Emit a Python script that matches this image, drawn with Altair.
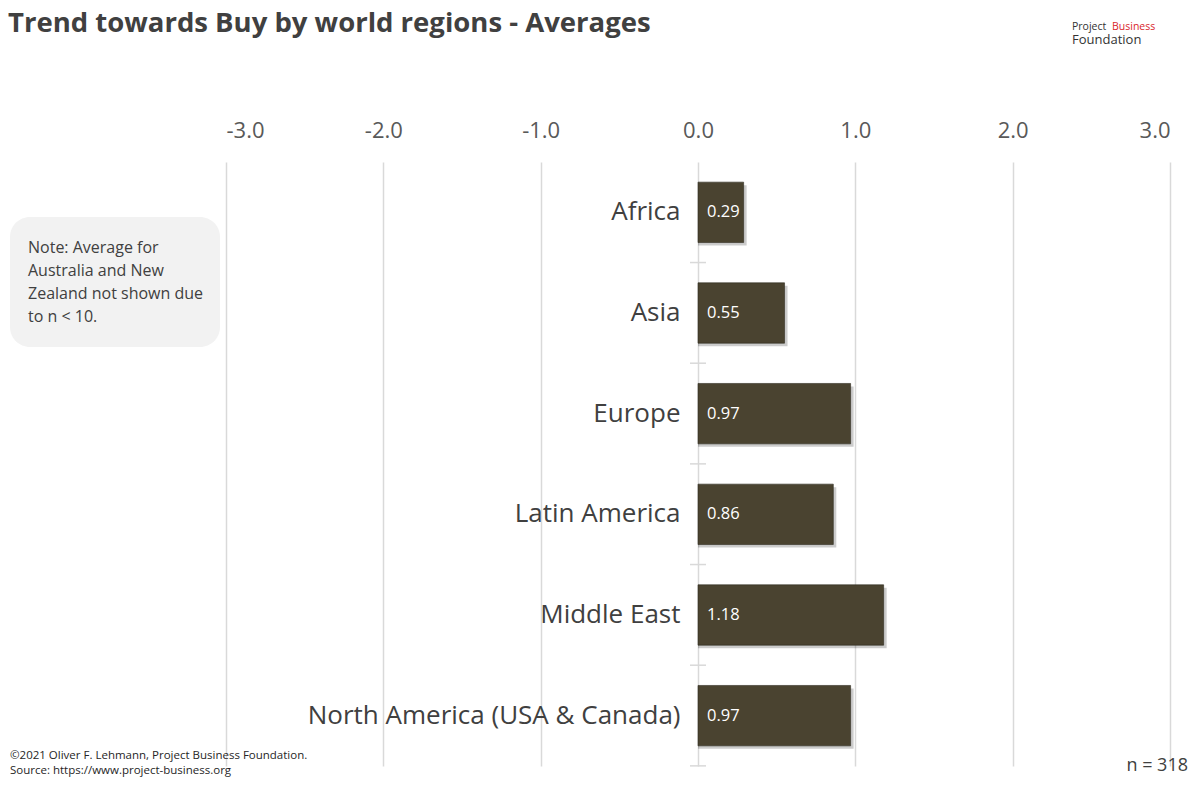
import altair as alt
import pandas as pd

regions = ["Africa", "Asia", "Europe", "Latin America", "Middle East",
           "North America (USA & Canada)"]
values = [0.29, 0.55, 0.97, 0.86, 1.18, 0.97]
x_ticks = [-3, -2, -1, 0, 1, 2, 3]

title_text = "Trend towards Buy by world regions - Averages"
note_lines = ["Note: Average for", "Australia and New", "Zealand not shown due", "to n < 10."]
footer_lines = ["\u00a92021 Oliver F. Lehmann, Project Business Foundation.",
                "Source: https://www.project-business.org"]
n_text = "n = 318"

df = pd.DataFrame({"region": regions, "value": values})
one = pd.DataFrame({"k": [0]})

W, H = 944, 604
FONT = "Open Sans"
TXT = "#404040"
GRID = "#d9d9d9"
BAR = "#4a4330"

y_enc = alt.Y(
    "region:N", sort=regions,
    scale=alt.Scale(paddingInner=0.4, paddingOuter=0.2),
    axis=alt.Axis(title=None, orient="left", offset=-480, domain=False,
                  ticks=False, labelPadding=26,
                  labelFontSize=26, labelFont=FONT, labelColor=TXT, labelLimit=0),
)
x_enc = alt.X(
    "value:Q",
    scale=alt.Scale(domain=[-3, 3], nice=False, zero=False),
    axis=alt.Axis(orient="top", values=x_ticks,
                  labelExpr="datum.value < 0 ? '-' + format(-datum.value, '.1f') : format(datum.value, '.1f')",
                  title=None, domain=False, ticks=False, grid=True, gridColor=GRID,
                  gridWidth=1.5, labelFontSize=22, labelFont=FONT,
                  labelColor="#595959", labelPadding=25, labelBaseline="alphabetic"),
)

base = alt.Chart(df)
# category separator ticks on the zero line
sep = base.mark_rule(color=GRID, strokeWidth=1.5, yOffset=20).encode(
    y=alt.Y("region:N", sort=regions, bandPosition=1,
            scale=alt.Scale(paddingInner=0.4, paddingOuter=0.2)),
    x=alt.value(464), x2=alt.value(480))
shadow = base.mark_bar(color="#000000", opacity=0.2, xOffset=3, yOffset=3).encode(
    x=x_enc, x2=alt.datum(0), y=y_enc)
bars = base.mark_bar(color=BAR, stroke="#2e2a1e", strokeWidth=0.6).encode(
    x=x_enc, x2=alt.datum(0), y=y_enc)
vals = base.mark_text(align="left", baseline="middle", dx=9, color="white",
                      fontSize=16.5, font=FONT).encode(
    x=alt.datum(0), y=y_enc, text=alt.Text("value:Q", format=".2f"))

ann = alt.Chart(one)
note_box = ann.mark_rect(color="#f2f2f2", cornerRadius=20).encode(
    x=alt.value(-216), x2=alt.value(-6), y=alt.value(55), y2=alt.value(185))
note = ann.mark_text(align="left", baseline="top", fontSize=16, lineHeight=23,
                     font=FONT, color=TXT).encode(
    x=alt.value(-198), y=alt.value(78), text=alt.value(note_lines))
footer = ann.mark_text(align="left", baseline="alphabetic", fontSize=11.5,
                       lineHeight=15, font=FONT, color="#262626").encode(
    x=alt.value(-216), y=alt.value(597), text=alt.value(footer_lines))
ntxt = ann.mark_text(align="right", baseline="middle", fontSize=18, font=FONT,
                     color=TXT).encode(
    x=alt.value(962), y=alt.value(604), text=alt.value(n_text))
title = ann.mark_text(align="left", baseline="alphabetic", fontSize=27.5, font=FONT,
                      fontWeight="bold", color=TXT).encode(
    x=alt.value(-218), y=alt.value(-130), text=alt.value(title_text))
logo1 = ann.mark_text(align="left", baseline="alphabetic", fontSize=10.5,
                      font=FONT, color="#333333").encode(
    x=alt.value(846), y=alt.value(-132), text=alt.value("Project"))
logo2 = ann.mark_text(align="left", baseline="alphabetic", fontSize=10.5,
                      font=FONT, color="#d9262b").encode(
    x=alt.value(886), y=alt.value(-132), text=alt.value("Business"))
logo3 = ann.mark_text(align="left", baseline="alphabetic", fontSize=13, font=FONT,
                      color="#333333").encode(
    x=alt.value(846), y=alt.value(-118), text=alt.value("Foundation"))

chart = alt.layer(sep, shadow, bars, vals, note_box, note, footer, ntxt, title,
                  logo1, logo2, logo3).properties(
    width=W, height=H,
    autosize=alt.AutoSizeParams(type="none"),
    padding={"left": 218, "top": 154, "right": 20, "bottom": 13},
).configure_view(stroke=None)

chart.save("out.html", embed_options={"renderer": "svg", "actions": False})
